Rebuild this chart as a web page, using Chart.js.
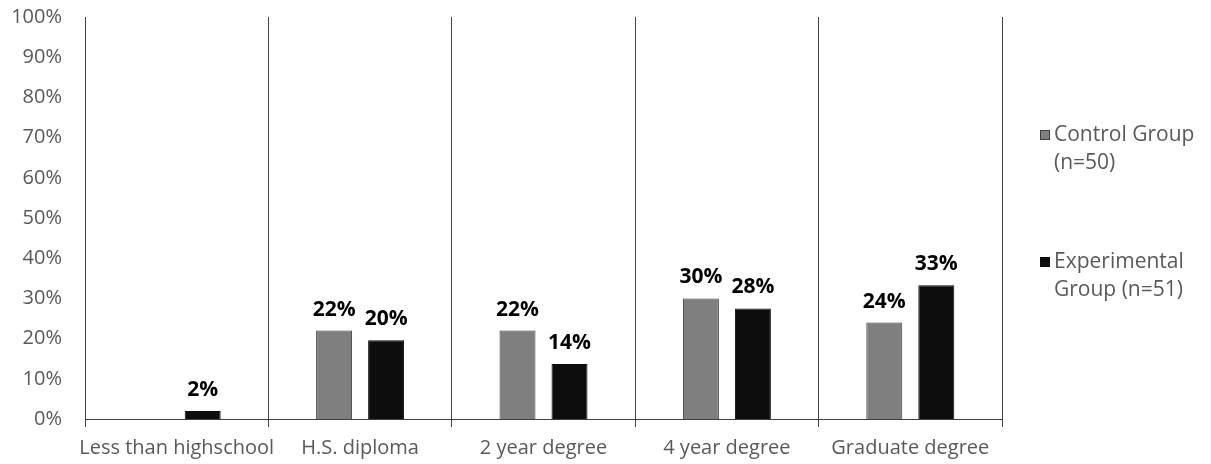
<!DOCTYPE html>
<html>
<head>
<meta charset="utf-8">
<script src="https://cdn.jsdelivr.net/npm/chart.js@4/dist/chart.umd.min.js"></script>
<style>
  html, body { margin: 0; padding: 0; background: #ffffff; }
  #wrap { width: 1211px; height: 464px; }
</style>
</head>
<body>
<div id="wrap"><canvas id="c" width="1211" height="464"></canvas></div>
<script>
const categories = ["Less than highschool", "H.S. diploma", "2 year degree", "4 year degree", "Graduate degree"];
const controlValues = [null, 22, 22, 30, 24];
const experimentalValues = [1.96, 19.6, 13.7, 27.5, 33.3];
const controlLegend = ["Control Group", "(n=50)"];
const experimentalLegend = ["Experimental", "Group (n=51)"];
const yTicks = [0, 10, 20, 30, 40, 50, 60, 70, 80, 90, 100];

const FONT = "'Open Sans', 'Liberation Sans', sans-serif";
const TEXT_GRAY = '#595959';
const LINE = '#404040';

const dataLabelPlugin = {
  id: 'dataLabels',
  afterDatasetsDraw(chart) {
    const ctx = chart.ctx;
    ctx.save();
    ctx.font = "bold 21px " + FONT;
    ctx.fillStyle = '#000000';
    ctx.textAlign = 'center';
    ctx.textBaseline = 'middle';
    chart.data.datasets.forEach((ds, di) => {
      const meta = chart.getDatasetMeta(di);
      meta.data.forEach((bar, i) => {
        const v = ds.data[i];
        if (v === null || v === undefined) return;
        ctx.fillText(Math.round(v) + '%', bar.x, bar.y - 21);
      });
    });
    ctx.restore();
  }
};

const legendPlugin = {
  id: 'customLegend',
  afterDraw(chart) {
    const ctx = chart.ctx;
    const entries = [
      { lines: controlLegend, ds: chart.data.datasets[0], y: 135 },
      { lines: experimentalLegend, ds: chart.data.datasets[1], y: 262 }
    ];
    ctx.save();
    ctx.font = "21px " + FONT;
    ctx.textBaseline = 'middle';
    ctx.textAlign = 'left';
    entries.forEach(e => {
      ctx.fillStyle = e.ds.backgroundColor;
      ctx.fillRect(1040, e.y - 5, 10, 10);
      ctx.strokeStyle = e.ds.borderColor;
      ctx.lineWidth = 1;
      ctx.strokeRect(1040.5, e.y - 4.5, 9, 9);
      ctx.fillStyle = TEXT_GRAY;
      e.lines.forEach((ln, k) => {
        ctx.fillText(ln, 1054, e.y + k * 28);
      });
    });
    ctx.restore();
  }
};

new Chart(document.getElementById('c'), {
  type: 'bar',
  data: {
    labels: categories,
    datasets: [
      {
        label: controlLegend.join(' '),
        data: controlValues,
        backgroundColor: '#7f7f7f',
        borderColor: LINE,
        borderWidth: 1
      },
      {
        label: experimentalLegend.join(' '),
        data: experimentalValues,
        backgroundColor: '#0d0d0d',
        borderColor: '#0d0d0d',
        borderWidth: 1
      }
    ]
  },
  options: {
    responsive: false,
    animation: false,
    devicePixelRatio: 1,
    layout: { padding: { left: 0, right: 209, top: 17, bottom: 0 } },
    datasets: {
      bar: { categoryPercentage: 0.567, barPercentage: 0.692 }
    },
    plugins: {
      legend: { display: false },
      tooltip: { enabled: false }
    },
    scales: {
      x: {
        offset: true,
        grid: {
          offset: true,
          display: true,
          drawOnChartArea: true,
          drawTicks: true,
          tickLength: 8,
          color: LINE,
          lineWidth: 1
        },
        border: { display: true, color: LINE, width: 1 },
        ticks: {
          color: TEXT_GRAY,
          font: { family: FONT, size: 20 },
          padding: 9,
          maxRotation: 0,
          autoSkip: false
        },
        afterFit(scale) { scale.height = 45; }
      },
      y: {
        min: 0,
        max: 100,
        afterBuildTicks(scale) { scale.ticks = yTicks.map(v => ({ value: v })); },
        grid: { display: false, drawTicks: false },
        border: { display: false },
        ticks: {
          color: TEXT_GRAY,
          font: { family: FONT, size: 20 },
          padding: 23,
          callback: v => v + '%'
        },
        afterFit(scale) {
          scale.width = 85;
          scale.paddingTop = 0;
          scale.paddingBottom = 0;
        }
      }
    }
  },
  plugins: [dataLabelPlugin, legendPlugin]
});
</script>
</body>
</html>
